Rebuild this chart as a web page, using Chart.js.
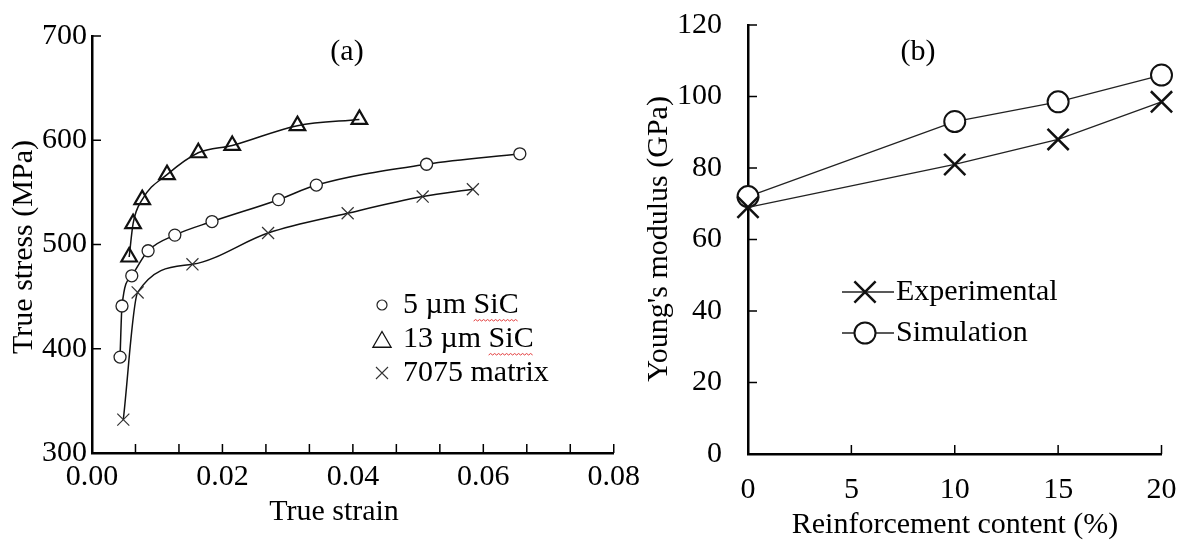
<!DOCTYPE html>
<html>
<head>
<meta charset="utf-8">
<script src="https://cdn.jsdelivr.net/npm/chart.js@4.4.1/dist/chart.umd.min.js"></script>
<style>
    html, body { margin: 0; padding: 0; background: #fff; }
    #wrap { position: relative; width: 1179px; height: 543px; overflow: hidden; }
    #stress-chart { position: absolute; left: 0; top: 0; }
    #modulus-chart { position: absolute; left: 640px; top: 0; }
</style>
</head>
<body>
<div id="wrap">
    <canvas id="stress-chart" width="640" height="543"></canvas>
    <canvas id="modulus-chart" width="539" height="543"></canvas>
</div>
<script>
// (a) true stress vs true strain
const strain5um = [0.0043, 0.0046, 0.0061, 0.0086, 0.0127, 0.0184, 0.0286, 0.0344, 0.0513, 0.0656];
const stress5um = [392, 441, 470, 494, 509, 522, 543, 557, 577, 587];
const strain13um = [0.0057, 0.0063, 0.0077, 0.0115, 0.0163, 0.0215, 0.0315, 0.0410];
const stress13um = [488, 520, 543, 567, 588, 595, 614, 620];
const strainMatrix = [0.0048, 0.0070, 0.0154, 0.0270, 0.0392, 0.0507, 0.0584];
const stressMatrix = [332, 454, 481, 511, 530, 546, 553];
const strainTicks = [0, 0.02, 0.04, 0.06, 0.08];
const stressTicks = [300, 400, 500, 600, 700];

// (b) Young's modulus vs reinforcement content
const contentPct = [0, 10, 15, 20];
const modulusExperimental = [69, 81, 88, 98.5];
const modulusSimulation = [72, 93, 98.5, 106];
const contentTicks = [0, 5, 10, 15, 20];
const modulusTicks = [0, 20, 40, 60, 80, 100, 120];

const FONT = '"Liberation Serif", "Times New Roman", serif';
const INK = '#000';

function toPoints(xs, ys) {
    return xs.map((x, i) => ({ x, y: ys[i] }));
}

function fixedTicks(list) {
    return scale => { scale.ticks = list.map(value => ({ value })); };
}

// ticks drawn inward from the axes, like the original figure
const innerTicks = {
    id: 'innerTicks',
    afterDatasetsDraw(chart, args, opts) {
        const { ctx, chartArea: area, scales: { x, y } } = chart;
        const values = [];
        x.ticks.forEach((tick, i) => {
            values.push(tick.value);
            const next = x.ticks[i + 1];
            if (!next) return;
            for (let k = 1; k < opts.xMinor; k++) {
                values.push(tick.value + (next.value - tick.value) * k / opts.xMinor);
            }
        });
        ctx.save();
        ctx.strokeStyle = INK;
        ctx.lineWidth = 1.5;
        ctx.beginPath();
        values.forEach(v => {
            const px = x.getPixelForValue(v);
            ctx.moveTo(px, area.bottom);
            ctx.lineTo(px, area.bottom - opts.length);
        });
        y.ticks.forEach(t => {
            const py = y.getPixelForValue(t.value);
            ctx.moveTo(area.left, py);
            ctx.lineTo(area.left + opts.length, py);
        });
        ctx.stroke();
        ctx.restore();
    }
};

function drawMarker(ctx, style, radius, lineWidth, color, x, y) {
    ctx.save();
    ctx.strokeStyle = color;
    ctx.fillStyle = style === 'crossRot' ? 'rgba(0,0,0,0)' : '#fff';
    ctx.lineWidth = lineWidth;
    Chart.helpers.drawPoint(ctx, { pointStyle: style, radius, rotation: 0, borderWidth: lineWidth }, x, y);
    ctx.restore();
}

function squiggle(ctx, x0, x1, y) {
    ctx.save();
    ctx.strokeStyle = '#e23b3b';
    ctx.lineWidth = 1;
    ctx.beginPath();
    ctx.moveTo(x0, y);
    let up = true;
    for (let x = x0 + 2; x <= x1; x += 2) {
        ctx.lineTo(x, up ? y - 1.5 : y);
        up = !up;
    }
    ctx.stroke();
    ctx.restore();
}

// panel tag, axis titles and the legend
const panelText = {
    id: 'panelText',
    afterDraw(chart, args, opts) {
        const ctx = chart.ctx;
        ctx.save();
        ctx.fillStyle = INK;
        ctx.font = `30px ${FONT}`;
        ctx.textBaseline = 'middle';
        ctx.textAlign = 'center';
        ctx.fillText(opts.tag.text, opts.tag.x, opts.tag.y);
        ctx.fillText(opts.xTitle.text, opts.xTitle.x, opts.xTitle.y);
        ctx.save();
        ctx.translate(opts.yTitle.x, opts.yTitle.y);
        ctx.rotate(-Math.PI / 2);
        ctx.fillText(opts.yTitle.text, 0, 0);
        ctx.restore();

        const lg = opts.legend;
        ctx.textAlign = 'left';
        chart.data.datasets.forEach((ds, i) => {
            const rowY = lg.y + i * lg.rowGap;
            if (lg.line) {
                ctx.save();
                ctx.strokeStyle = ds.borderColor;
                ctx.lineWidth = ds.borderWidth;
                ctx.beginPath();
                ctx.moveTo(lg.line[0], rowY);
                ctx.lineTo(lg.line[1], rowY);
                ctx.stroke();
                ctx.restore();
            }
            const m = ds.legendMarker;
            drawMarker(ctx, ds.pointStyle, m.radius, m.width, ds.pointBorderColor, lg.markerX, rowY + (m.dy || 0));
            ctx.fillStyle = INK;
            ctx.fillText(ds.label, lg.textX, rowY);
            if (ds.label.endsWith('SiC')) {
                const start = lg.textX + ctx.measureText(ds.label.slice(0, -3)).width;
                const end = lg.textX + ctx.measureText(ds.label).width;
                squiggle(ctx, start, end, rowY + 16);
            }
        });
        ctx.restore();
    }
};

// gap between axis and labels comes from an invisible tick length,
// so the label padding does not eat into the plot area
function axisBase(min, max, ticks, gap, format) {
    return {
        type: 'linear',
        min,
        max,
        afterBuildTicks: fixedTicks(ticks),
        grid: { display: false, drawTicks: true, tickLength: gap },
        border: { display: true, color: INK, width: 2.5 },
        ticks: { color: INK, padding: 0, font: { family: FONT, size: 30 }, callback: format }
    };
}

new Chart(document.getElementById('stress-chart'), {
    type: 'line',
    data: {
        datasets: [
            {
                label: '5 µm SiC',
                data: toPoints(strain5um, stress5um),
                borderColor: '#111', borderWidth: 1.5,
                cubicInterpolationMode: 'monotone',
                pointStyle: 'circle', pointRadius: 6, pointBorderWidth: 1.3,
                pointBorderColor: '#222', pointBackgroundColor: '#fff',
                legendMarker: { radius: 5, width: 1.2 },
                clip: false
            },
            {
                label: '13 µm SiC',
                data: toPoints(strain13um, stress13um),
                borderColor: '#111', borderWidth: 1.5,
                cubicInterpolationMode: 'monotone',
                pointStyle: 'triangle', pointRadius: 9, pointBorderWidth: 2.2,
                pointBorderColor: '#111', pointBackgroundColor: 'rgba(255,255,255,0)',
                legendMarker: { radius: 10.5, width: 1.3, dy: 3 },
                clip: false
            },
            {
                label: '7075 matrix',
                data: toPoints(strainMatrix, stressMatrix),
                borderColor: '#111', borderWidth: 1.5,
                cubicInterpolationMode: 'monotone',
                pointStyle: 'crossRot', pointRadius: 8.5, pointBorderWidth: 1.2,
                pointBorderColor: '#333',
                legendMarker: { radius: 8.5, width: 1.1 },
                clip: false
            }
        ]
    },
    options: {
        responsive: false,
        animation: false,
        devicePixelRatio: 1,
        layout: { padding: { top: 36, right: 26, left: 0, bottom: 0 } },
        plugins: {
            legend: { display: false },
            tooltip: { enabled: false },
            innerTicks: { length: 9, xMinor: 3 },
            panelText: {
                tag: { text: '(a)', x: 347, y: 52 },
                xTitle: { text: 'True strain', x: 334, y: 512 },
                yTitle: { text: 'True stress (MPa)', x: 24, y: 247 },
                legend: { markerX: 382, textX: 403, y: 305, rowGap: 34 }
            }
        },
        scales: {
            x: {
                ...axisBase(0, 0.08, strainTicks, 6, value => Number(value).toFixed(2)),
                afterFit: scale => { scale.height = 90; }
            },
            y: {
                ...axisBase(300, 700, stressTicks, 5, value => String(value)),
                afterFit: scale => { scale.width = 92; }
            }
        }
    },
    plugins: [innerTicks, panelText]
});

new Chart(document.getElementById('modulus-chart'), {
    type: 'line',
    data: {
        datasets: [
            {
                label: 'Experimental',
                data: toPoints(contentPct, modulusExperimental),
                borderColor: '#222', borderWidth: 1.3, tension: 0,
                pointStyle: 'crossRot', pointRadius: 15, pointBorderWidth: 2.5,
                pointBorderColor: '#111',
                legendMarker: { radius: 15, width: 2.5 },
                clip: false
            },
            {
                label: 'Simulation',
                data: toPoints(contentPct, modulusSimulation),
                borderColor: '#222', borderWidth: 1.3, tension: 0,
                pointStyle: 'circle', pointRadius: 10.5, pointBorderWidth: 2,
                pointBorderColor: '#111', pointBackgroundColor: '#fff',
                legendMarker: { radius: 10.5, width: 2 },
                clip: false
            }
        ]
    },
    options: {
        responsive: false,
        animation: false,
        devicePixelRatio: 1,
        layout: { padding: { top: 25, right: 17, left: 0, bottom: 0 } },
        plugins: {
            legend: { display: false },
            tooltip: { enabled: false },
            innerTicks: { length: 9, xMinor: 1 },
            panelText: {
                tag: { text: '(b)', x: 278, y: 52 },
                xTitle: { text: 'Reinforcement content (%)', x: 315, y: 525 },
                yTitle: { text: "Young's modulus (GPa)", x: 19, y: 239 },
                legend: { markerX: 225, textX: 256, y: 292, rowGap: 41, line: [202, 254] }
            }
        },
        scales: {
            x: {
                ...axisBase(0, 20, contentTicks, 18, value => String(value)),
                afterFit: scale => { scale.height = 89; }
            },
            y: {
                ...axisBase(0, 120, modulusTicks, 26, value => String(value)),
                afterFit: scale => { scale.width = 108; }
            }
        }
    },
    plugins: [innerTicks, panelText]
});
</script>
</body>
</html>
